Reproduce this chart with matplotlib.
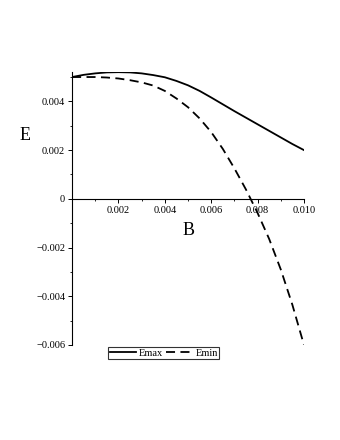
import numpy as np
import matplotlib.pyplot as plt
from matplotlib.ticker import MultipleLocator, FormatStrFormatter

B = [0.0, 0.0005, 0.001, 0.0015, 0.002, 0.0025, 0.003, 0.0035, 0.004, 0.0045,
     0.005, 0.0055, 0.006, 0.0065, 0.007, 0.0075, 0.008, 0.0085, 0.009, 0.0095, 0.010]
Emax = [0.00500, 0.00509, 0.00515, 0.00519, 0.00520, 0.00519, 0.00515, 0.00508, 0.00499, 0.00484,
        0.00466, 0.00443, 0.00416, 0.00388, 0.00360, 0.00333, 0.00306, 0.00279, 0.00252, 0.00225, 0.00200]
Emin = [0.00500, 0.00500, 0.00500, 0.00498, 0.00494, 0.00487, 0.00478, 0.00465, 0.00443, 0.00412,
        0.00376, 0.00330, 0.00274, 0.00205, 0.00125, 0.00038, -0.00058, -0.00165, -0.00290, -0.00435, -0.00600]

plt.rcParams['font.family'] = ['Liberation Serif', 'DejaVu Serif']

fig = plt.figure(figsize=(3.4, 4.4), dpi=100)
ax = fig.add_axes([0.212, 0.216, 0.682, 0.620])

ax.plot(B, Emax, color='black', lw=1.3, label='Emax')
ax.plot(B, Emin, color='black', lw=1.3, ls=(0, (5, 3)), label='Emin')

ax.set_xlim(0, 0.010)
ax.set_ylim(-0.006, 0.0052)

# axes cross at the origin, maple style
ax.spines['left'].set_position(('data', 0))
ax.spines['bottom'].set_position(('data', 0))
ax.spines['top'].set_visible(False)
ax.spines['right'].set_visible(False)
for s in ('left', 'bottom'):
    ax.spines[s].set_linewidth(0.8)

ax.xaxis.set_major_locator(MultipleLocator(0.002))
ax.xaxis.set_minor_locator(MultipleLocator(0.001))
ax.yaxis.set_major_locator(MultipleLocator(0.002))
ax.yaxis.set_minor_locator(MultipleLocator(0.001))
ax.xaxis.set_major_formatter(FormatStrFormatter('%.3f'))
ax.yaxis.set_major_formatter(plt.FuncFormatter(lambda v, p: '0' if abs(v) < 1e-12 else ('%.3f' % v).replace('-', '\u2212')))
ax.set_xticks([0.002, 0.004, 0.006, 0.008, 0.010])
ax.tick_params(which='major', length=3, width=0.7, labelsize=7.5, pad=2)
ax.tick_params(which='minor', length=1.5, width=0.6)

fig.text(0.075, 0.693, 'E', fontsize=13, ha='center', va='center')
fig.text(0.553, 0.477, 'B', fontsize=13, ha='center', va='center')

leg = ax.legend(loc='upper left', bbox_to_anchor=(108 / 340, 1 - 347 / 440), bbox_transform=fig.transFigure,
                ncol=2, fontsize=7.5, frameon=True, fancybox=False, edgecolor='black',
                handlelength=2.5, handletextpad=0.3, columnspacing=0.3, borderpad=0.15, borderaxespad=0)
leg.get_frame().set_linewidth(0.8)

fig.savefig('out.png', dpi=100)
